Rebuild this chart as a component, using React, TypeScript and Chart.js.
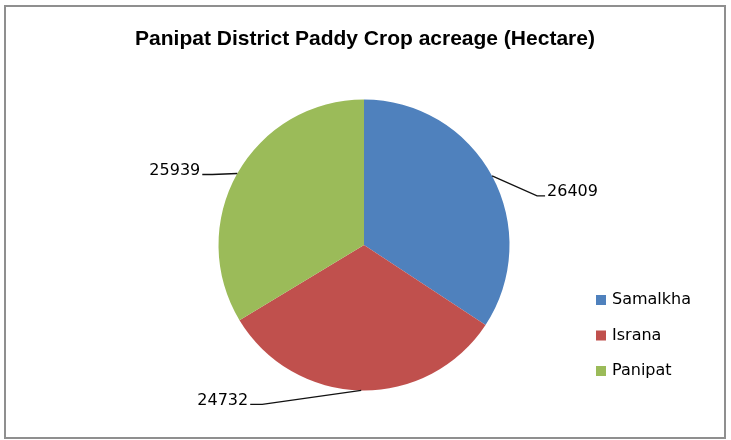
import React, { useEffect, useRef } from "react";
import { Chart, ArcElement, PieController } from "chart.js";

Chart.register(ArcElement, PieController);

const categories = ["Samalkha", "Israna", "Panipat"];
const acreage = [26409, 24732, 25939];
const sliceColors = ["#4F81BD", "#C0504D", "#9BBB59"];
const chartTitle = "Panipat District Paddy Crop acreage (Hectare)";

// leader-line elbow offsets relative to the slice edge point (style only)
const leaderStyle = [
  { dx: 45, dy: 20, stub: 8, side: "right" },
  { dx: -99, dy: 14, stub: -12, side: "left" },
  { dx: -25, dy: 1, stub: -10, side: "left" },
];

const decorPlugin = {
  id: "excelDecor",
  afterDraw(chart: any) {
    const ctx: CanvasRenderingContext2D = chart.ctx;
    const meta = chart.getDatasetMeta(0);
    ctx.save();
    // title
    ctx.fillStyle = "#000";
    ctx.font = "bold 21px 'Liberation Sans'";
    ctx.textAlign = "center";
    ctx.textBaseline = "middle";
    ctx.fillText(chartTitle, 365, 39);

    // data labels with leader lines
    ctx.font = "16px 'DejaVu Sans'";
    ctx.strokeStyle = "#111";
    ctx.lineWidth = 1.3;
    meta.data.forEach((arc: any, i: number) => {
      const p = arc.getProps(["x", "y", "startAngle", "endAngle", "outerRadius"], true);
      const mid = (p.startAngle + p.endAngle) / 2;
      const ex = p.x + Math.cos(mid) * p.outerRadius;
      const ey = p.y + Math.sin(mid) * p.outerRadius;
      const s = leaderStyle[i];
      const bx = ex + s.dx;
      const by = ey + s.dy;
      const tx = bx + s.stub;
      ctx.beginPath();
      ctx.moveTo(ex, ey);
      ctx.lineTo(bx, by);
      ctx.lineTo(tx, by);
      ctx.stroke();
      ctx.fillStyle = "#000";
      ctx.textBaseline = "middle";
      if (s.side === "right") {
        ctx.textAlign = "left";
        ctx.fillText(String(acreage[i]), tx + 2, by - 4);
      } else {
        ctx.textAlign = "right";
        ctx.fillText(String(acreage[i]), tx - 2, by - 4);
      }
    });

    // legend
    const lx = 596;
    const ly = 300;
    const gap = 35.5;
    categories.forEach((name, i) => {
      const cy = ly + i * gap;
      ctx.fillStyle = sliceColors[i];
      ctx.fillRect(lx, cy - 5, 10, 10);
      ctx.fillStyle = "#000";
      ctx.textAlign = "left";
      ctx.textBaseline = "middle";
      ctx.fillText(name, lx + 16, cy);
    });
    ctx.restore();
  },
};

export default function App() {
  const ref = useRef<HTMLCanvasElement | null>(null);
  useEffect(() => {
    if (!ref.current) return;
    const chart = new Chart(ref.current, {
      type: "pie",
      data: {
        labels: categories,
        datasets: [
          {
            data: acreage,
            backgroundColor: sliceColors,
            borderWidth: 0,
          },
        ],
      },
      options: {
        responsive: false,
        animation: false,
        layout: { padding: { left: 218.5, right: 221.5, top: 99.5, bottom: 49.5 } },
        plugins: {
          legend: { display: false },
          tooltip: { enabled: false },
        },
      },
      plugins: [decorPlugin],
    });
    return () => chart.destroy();
  }, []);
  return (
    <div style={{ position: "absolute", left: 0, top: 0, width: 731, height: 440, background: "#fff" }}>
      <canvas ref={ref} width={731} height={440} style={{ width: 731, height: 440, display: "block" }} />
      <div
        style={{
          position: "absolute",
          left: 4,
          top: 5,
          width: 722,
          height: 434,
          border: "2px solid #8f8f8f",
          boxSizing: "border-box",
          pointerEvents: "none",
        }}
      />
    </div>
  );
}
